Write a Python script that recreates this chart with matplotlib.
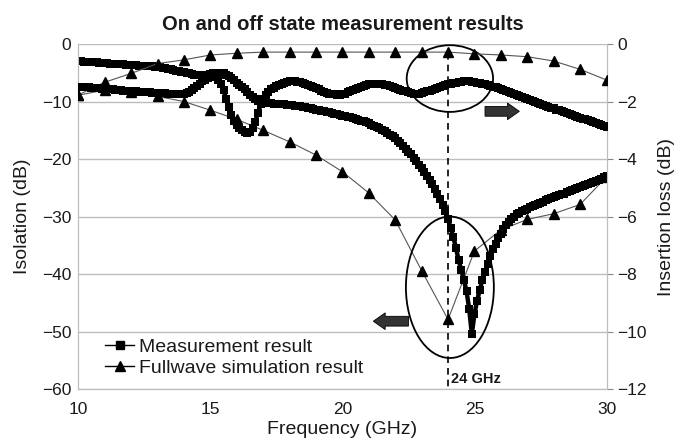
import numpy as np
import matplotlib
matplotlib.use("Agg")
import matplotlib.pyplot as plt
from matplotlib.patches import Ellipse, FancyArrow
from matplotlib.lines import Line2D

plt.rcParams['font.family'] = ['Liberation Sans', 'DejaVu Sans']

# measured data, 0.1 GHz step
freq_meas = np.round(np.arange(10.0, 30.05, 0.1), 1)

# isolation, measured (dB, left axis)
iso_meas = [
    -3.0, -3.0, -3.05, -3.1, -3.1, -3.15, -3.2, -3.2, -3.25, -3.3,
    -3.3, -3.35, -3.4, -3.4, -3.45, -3.5, -3.5, -3.55, -3.6, -3.6,
    -3.65, -3.7, -3.7, -3.75, -3.8, -3.8, -3.85, -3.9, -3.9, -3.95,
    -4.0, -4.05, -4.1, -4.2, -4.3, -4.4, -4.5, -4.6, -4.7, -4.8,
    -4.9, -5.0, -5.1, -5.2, -5.3, -5.35, -5.4, -5.4, -5.35, -5.3,
    -5.2, -5.1, -5.0, -4.95, -5.0, -5.1, -5.3, -5.6, -5.9, -6.3,
    -6.7, -7.1, -7.5, -7.9, -8.4, -8.8, -9.2, -9.6, -9.9, -10.1,
    -10.2, -10.3, -10.3, -10.3, -10.35, -10.4, -10.4, -10.45, -10.5, -10.55,
    -10.6, -10.65, -10.7, -10.8, -10.85, -10.9, -11.0, -11.1, -11.2, -11.3,
    -11.4, -11.5, -11.6, -11.7, -11.8, -11.9, -12.0, -12.1, -12.2, -12.3,
    -12.45, -12.55, -12.65, -12.75, -12.9, -13.0, -13.15, -13.3, -13.45, -13.6,
    -13.8, -14.0, -14.2, -14.4, -14.65, -14.9, -15.15, -15.45, -15.75, -16.05,
    -16.4, -16.8, -17.2, -17.7, -18.2, -18.7, -19.2, -19.8, -20.4, -21.0,
    -21.6, -22.3, -23.0, -23.7, -24.4, -25.2, -26.0, -27.0, -28.0, -29.0,
    -30.5, -32.0, -33.5, -35.5, -37.5, -39.3, -41.0, -43.0, -46.0, -50.4,
    -47.0, -44.6, -42.8, -41.0, -39.6, -38.2, -36.9, -35.7, -34.7, -33.8,
    -33.0, -32.2, -31.5, -30.9, -30.4, -30.0, -29.6, -29.3, -29.0, -28.8,
    -28.6, -28.4, -28.2, -28.0, -27.8, -27.6, -27.4, -27.2, -27.0, -26.8,
    -26.6, -26.45, -26.3, -26.15, -26.0, -25.8, -25.6, -25.4, -25.2, -25.0,
    -24.8, -24.65, -24.5, -24.35, -24.2, -24.0, -23.8, -23.6, -23.4, -23.2,
    -23.0,
]

# insertion loss, measured (dB, right axis)
il_meas = [
    -1.48, -1.49, -1.50, -1.50, -1.51, -1.52, -1.52, -1.53, -1.54, -1.55,
    -1.56, -1.57, -1.58, -1.58, -1.59, -1.60, -1.61, -1.62, -1.62, -1.63,
    -1.64, -1.64, -1.65, -1.66, -1.66, -1.67, -1.68, -1.68, -1.69, -1.70,
    -1.70, -1.70, -1.71, -1.71, -1.72, -1.72, -1.72, -1.72, -1.72, -1.72,
    -1.72, -1.70, -1.66, -1.60, -1.54, -1.46, -1.38, -1.30, -1.24, -1.18,
    -1.14, -1.12, -1.14, -1.24, -1.40, -1.60, -1.90, -2.20, -2.46, -2.66,
    -2.80, -2.92, -3.00, -3.06, -3.08, -3.06, -2.92, -2.70, -2.40, -2.10,
    -1.90, -1.76, -1.66, -1.58, -1.52, -1.46, -1.42, -1.38, -1.34, -1.32,
    -1.30, -1.30, -1.30, -1.31, -1.32, -1.34, -1.38, -1.42, -1.46, -1.50,
    -1.54, -1.58, -1.62, -1.66, -1.70, -1.72, -1.74, -1.75, -1.76, -1.76,
    -1.74, -1.72, -1.68, -1.64, -1.60, -1.56, -1.52, -1.48, -1.45, -1.42,
    -1.40, -1.39, -1.38, -1.38, -1.39, -1.40, -1.42, -1.44, -1.47, -1.50,
    -1.53, -1.56, -1.59, -1.62, -1.65, -1.68, -1.70, -1.72, -1.72, -1.72,
    -1.70, -1.68, -1.65, -1.62, -1.59, -1.56, -1.52, -1.49, -1.46, -1.43,
    -1.40, -1.38, -1.36, -1.34, -1.32, -1.31, -1.30, -1.30, -1.30, -1.31,
    -1.32, -1.34, -1.36, -1.38, -1.40, -1.42, -1.45, -1.48, -1.51, -1.54,
    -1.58, -1.61, -1.64, -1.68, -1.71, -1.74, -1.78, -1.81, -1.84, -1.88,
    -1.91, -1.94, -1.98, -2.01, -2.04, -2.08, -2.11, -2.14, -2.18, -2.21,
    -2.24, -2.28, -2.31, -2.34, -2.38, -2.41, -2.44, -2.47, -2.50, -2.53,
    -2.56, -2.59, -2.62, -2.65, -2.68, -2.71, -2.74, -2.77, -2.80, -2.84,
    -2.90,
]

# full-wave simulation, 1 GHz step
freq_sim = list(range(10, 31))
iso_sim = [-8.9, -8.0, -8.4, -9.1, -10.0, -11.5, -13.1, -15.0, -17.0, -19.3,
           -22.2, -25.9, -30.6, -39.4, -47.9, -36.0, -32.3, -30.5, -29.5, -27.9,
           -23.1]
il_sim = [-1.77, -1.33, -1.02, -0.68, -0.55, -0.38, -0.32, -0.28, -0.28, -0.28,
          -0.28, -0.28, -0.28, -0.28, -0.28, -0.34, -0.38, -0.44, -0.59, -0.88,
          -1.25]

txt = '#1a1a1a'
grid_c = '#bdbdbd'

fig = plt.figure(figsize=(6.83, 4.45), dpi=100)
ax = fig.add_subplot(111)
fig.subplots_adjust(left=0.1146, right=0.888, top=0.901, bottom=0.1257)
ax2 = ax.twinx()

meas_style = dict(color='black', lw=3.2, marker='s', markersize=6.2, markeredgewidth=0)
sim_style = dict(color='#555555', lw=0.8, marker='^', markersize=6.5,
                 markerfacecolor='black', markeredgecolor='black')

ax.plot(freq_sim, iso_sim, zorder=3, **sim_style)
ax.plot(freq_meas, iso_meas, zorder=4, **meas_style)
ax2.plot(freq_sim, il_sim, zorder=3, **sim_style)
ax2.plot(freq_meas, il_meas, zorder=4, **meas_style)

ax.set_xlim(10, 30)
ax.set_ylim(-60, 0)
ax2.set_ylim(-12, 0)
ax.set_xticks([10, 15, 20, 25, 30])
ax.set_yticks(range(-60, 1, 10))
ax2.set_yticks(range(-12, 1, 2))

ax.yaxis.grid(True, color=grid_c, lw=1)
ax.set_axisbelow(True)
for a in (ax, ax2):
    for s in a.spines.values():
        s.set_color(grid_c)
    a.spines['top'].set_visible(False)
ax.tick_params(axis='y', length=0, labelsize=12.5, labelcolor=txt, pad=5)
ax.tick_params(axis='x', length=0, labelsize=12.5, labelcolor=txt, pad=9)
ax2.tick_params(axis='y', length=4, color='#888888', labelsize=12.5, labelcolor=txt, pad=4)

ax.set_xlabel('Frequency (GHz)', fontsize=14, color=txt, labelpad=3)
ax.set_ylabel('Isolation (dB)', fontsize=14, color=txt, labelpad=8)
ax2.set_ylabel('Insertion loss (dB)', fontsize=14, color=txt, labelpad=8)
ax.set_title('On and off state measurement results', fontsize=14.5,
             fontweight='bold', color=txt, pad=10)

# 24 GHz marker
ax.plot([24, 24], [-1.5, -60], color='black', lw=1.2, ls=(0, (4, 3)), zorder=5)
ax.text(24.12, -58.2, '24 GHz', fontsize=10.5, fontweight='bold', color=txt,
        ha='left', va='center')

# ellipses around the points of interest
ax.add_patch(Ellipse((24.07, -6.0), 3.27, 11.6, fill=False, ec='black', lw=1.3, zorder=6))
ax.add_patch(Ellipse((24.07, -42.3), 3.33, 24.6, fill=False, ec='black', lw=1.3, zorder=6))

# axis arrows
ax.add_patch(FancyArrow(25.4, -11.7, 1.3, 0, width=1.7, head_width=2.9, head_length=0.45,
                        length_includes_head=True, fc='#333333', ec='black', lw=0.6, zorder=6))
ax.add_patch(FancyArrow(22.5, -48.2, -1.33, 0, width=1.7, head_width=2.9, head_length=0.45,
                        length_includes_head=True, fc='#333333', ec='black', lw=0.6, zorder=6))

handles = [
    Line2D([], [], color='black', lw=1.0, marker='s', markersize=6),
    Line2D([], [], color='black', lw=1.0, marker='^', markersize=7),
]
leg = ax.legend(handles, ['Measurement result', 'Fullwave simulation result'],
                loc='lower left', bbox_to_anchor=(0.025, -0.005), frameon=False,
                fontsize=14, handlelength=1.5, handletextpad=0.25, labelspacing=0.2,
                borderpad=0.2)
for t in leg.get_texts():
    t.set_color(txt)
leg.set_zorder(7)

fig.savefig('out.png', dpi=100)
